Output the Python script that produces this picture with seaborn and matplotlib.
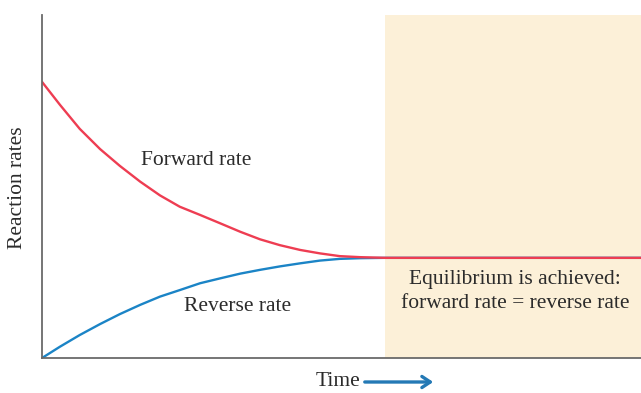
import pandas as pd
import seaborn as sns
import matplotlib
matplotlib.use('Agg')
import matplotlib.pyplot as plt

# values (time and rate in % of axis range)
time = [0, 3.0, 6.3, 9.7, 13.0, 16.4, 19.7, 23.0, 26.4, 29.7, 33.1, 36.4, 39.7,
        43.1, 46.4, 49.7, 53.1, 57.3, 100]
forward_rate = [80.5, 73.8, 66.8, 60.9, 56.0, 51.4, 47.4, 44.1, 41.7, 39.3, 36.8, 34.6,
                32.9, 31.5, 30.5, 29.7, 29.4, 29.2, 29.2]
reverse_rate = [0, 3.3, 6.7, 9.9, 12.8, 15.5, 17.9, 19.8, 21.8, 23.2, 24.6, 25.7,
                26.7, 27.6, 28.4, 28.9, 29.1, 29.2, 29.2]
equilibrium_start = 57.3

df = pd.DataFrame({'Time': time, 'Forward': forward_rate, 'Reverse': reverse_rate})

sns.set_style('white')
plt.rcParams['font.family'] = ['Liberation Serif', 'DejaVu Serif']

fig = plt.figure(figsize=(6.41, 3.93), dpi=100)
ax = fig.add_axes([0.0655, 0.089, 0.9345, 0.873])

# shaded equilibrium region
ax.axvspan(equilibrium_start, 100, color='#fcf0d8', zorder=0, lw=0)

sns.lineplot(data=df, x='Time', y='Reverse', ax=ax, color='#1b84c6', lw=1.7)
sns.lineplot(data=df, x='Time', y='Forward', ax=ax, color='#ee3d52', lw=1.7)

ax.set_xlim(0, 100)
ax.set_ylim(0, 100)
ax.set_xticks([])
ax.set_yticks([])
ax.set_xlabel('')
ax.set_ylabel('')
for side in ['top', 'right']:
    ax.spines[side].set_visible(False)
for side in ['left', 'bottom']:
    ax.spines[side].set_color('#6a6a6a')
    ax.spines[side].set_linewidth(1.3)

txt = dict(fontsize=15.5, color='#2b2b2b', ha='center', va='center')
ax.text(25.7, 57.7, 'Forward rate', **txt)
ax.text(32.6, 14.9, 'Reverse rate', **txt)
ax.text(79, 23.0, 'Equilibrium is achieved:', **txt)
ax.text(79, 16.0, 'forward rate = reverse rate', **txt)

fig.text(18 / 641, 1 - 188 / 393, 'Reaction rates', rotation=90, fontsize=15.5,
         color='#2b2b2b', ha='center', va='center')
fig.text(338 / 641, 1 - 382 / 393, 'Time', fontsize=15.5, color='#2b2b2b',
         ha='center', va='center')
fig.patches.append(matplotlib.patches.FancyArrowPatch(
    (362 / 641, 1 - 382 / 393), (436 / 641, 1 - 382 / 393),
    transform=fig.transFigure, arrowstyle='->,head_length=6,head_width=4',
    color='#2479b5', lw=2.4, mutation_scale=1))

fig.savefig('out.png', dpi=100)
